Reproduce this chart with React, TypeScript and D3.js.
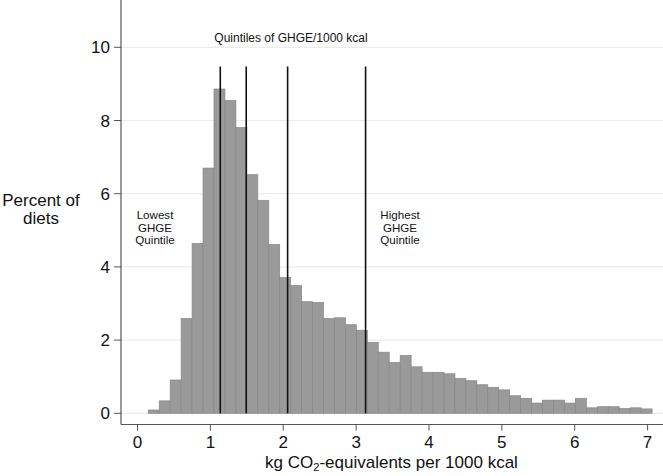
import React from "react";
import * as d3 from "d3";

const binStart = 0.148;
const binWidth = 0.1503;
const percents = [
  0.09, 0.34, 0.91, 2.59, 4.64, 6.7, 8.86, 8.55, 7.81, 6.52,
  5.82, 4.61, 3.71, 3.49, 3.05, 3.03, 2.59, 2.61, 2.42, 2.27,
  1.94, 1.67, 1.39, 1.58, 1.27, 1.12, 1.12, 1.08, 0.95, 0.89,
  0.78, 0.71, 0.64, 0.48, 0.41, 0.28, 0.36, 0.36, 0.28, 0.41,
  0.15, 0.18, 0.18, 0.13, 0.15, 0.12,
];
const quintiles = [1.136, 1.492, 2.06, 3.13];
const xTicks = [0, 1, 2, 3, 4, 5, 6, 7];
const yTicks = [0, 2, 4, 6, 8, 10];
const lowestLabel = ["Lowest", "GHGE", "Quintile"];
const highestLabel = ["Highest", "GHGE", "Quintile"];
const yTitle = ["Percent of", "diets"];
const quintTitle = "Quintiles of GHGE/1000 kcal";

const W = 663;
const H = 476;
const FONT = "'Liberation Sans', Arial, Helvetica, sans-serif";

export default function App() {
  const x = d3.scaleLinear().domain([0, 7]).range([137.5, 647.6]);
  const y = d3.scaleLinear().domain([0, 10]).range([413.3, 47.3]);
  const axisX = 121;
  const axisY = 424.5;
  const big = 17;
  const bins = percents.map((v, i) => ({
    x0: binStart + i * binWidth,
    x1: binStart + (i + 1) * binWidth,
    v,
  }));
  return (
    <svg
      width={W}
      height={H}
      style={{ position: "absolute", left: 0, top: 0, background: "#fff" }}
      fontFamily={FONT}
    >
      {yTicks.map((t) => (
        <line
          key={"g" + t}
          x1={axisX}
          x2={W}
          y1={y(t)}
          y2={y(t)}
          stroke="#ececec"
          strokeWidth={1.2}
        />
      ))}
      {bins.map((b, i) => (
        <rect
          key={i}
          x={x(b.x0)}
          y={y(b.v)}
          width={x(b.x1) - x(b.x0)}
          height={y(0) - y(b.v)}
          fill="#9a9a9a"
          stroke="#878787"
          strokeWidth={0.7}
        />
      ))}
      {quintiles.map((q, i) => (
        <line
          key={"q" + i}
          x1={x(q)}
          x2={x(q)}
          y1={66.5}
          y2={y(0)}
          stroke="#111"
          strokeWidth={1.6}
        />
      ))}
      <text x={291} y={41.7} fontSize={12} textAnchor="middle" fill="#111">
        {quintTitle}
      </text>
      {lowestLabel.map((s, i) => (
        <text key={"l" + i} x={155} y={219 + i * 12.6} fontSize={11.6} textAnchor="middle" fill="#111">
          {s}
        </text>
      ))}
      {highestLabel.map((s, i) => (
        <text key={"h" + i} x={400} y={219 + i * 12.6} fontSize={11.6} textAnchor="middle" fill="#111">
          {s}
        </text>
      ))}
      {/* axes */}
      <line x1={axisX} x2={axisX} y1={0} y2={axisY} stroke="#555" strokeWidth={1.2} />
      <line x1={axisX} x2={W} y1={axisY} y2={axisY} stroke="#555" strokeWidth={1.2} />
      {yTicks.map((t) => (
        <g key={"yt" + t}>
          <line x1={axisX - 7} x2={axisX} y1={y(t)} y2={y(t)} stroke="#555" strokeWidth={1} />
          <text x={110} y={y(t)} dy="0.36em" fontSize={big} textAnchor="end" fill="#111">
            {t}
          </text>
        </g>
      ))}
      {xTicks.map((t) => (
        <g key={"xt" + t}>
          <line x1={x(t)} x2={x(t)} y1={axisY} y2={axisY + 6} stroke="#555" strokeWidth={1} />
          <text x={x(t)} y={448} fontSize={big} textAnchor="middle" fill="#111">
            {t}
          </text>
        </g>
      ))}
      <text x={391.5} y={467.5} fontSize={big} textAnchor="middle" fill="#111">
        kg CO
        <tspan fontSize={11} dy={3}>2</tspan>
        <tspan dy={-3}>-equivalents per 1000 kcal</tspan>
      </text>
      {yTitle.map((s, i) => (
        <text key={"yl" + i} x={41} y={206 + i * 18} fontSize={big} textAnchor="middle" fill="#111">
          {s}
        </text>
      ))}
    </svg>
  );
}
